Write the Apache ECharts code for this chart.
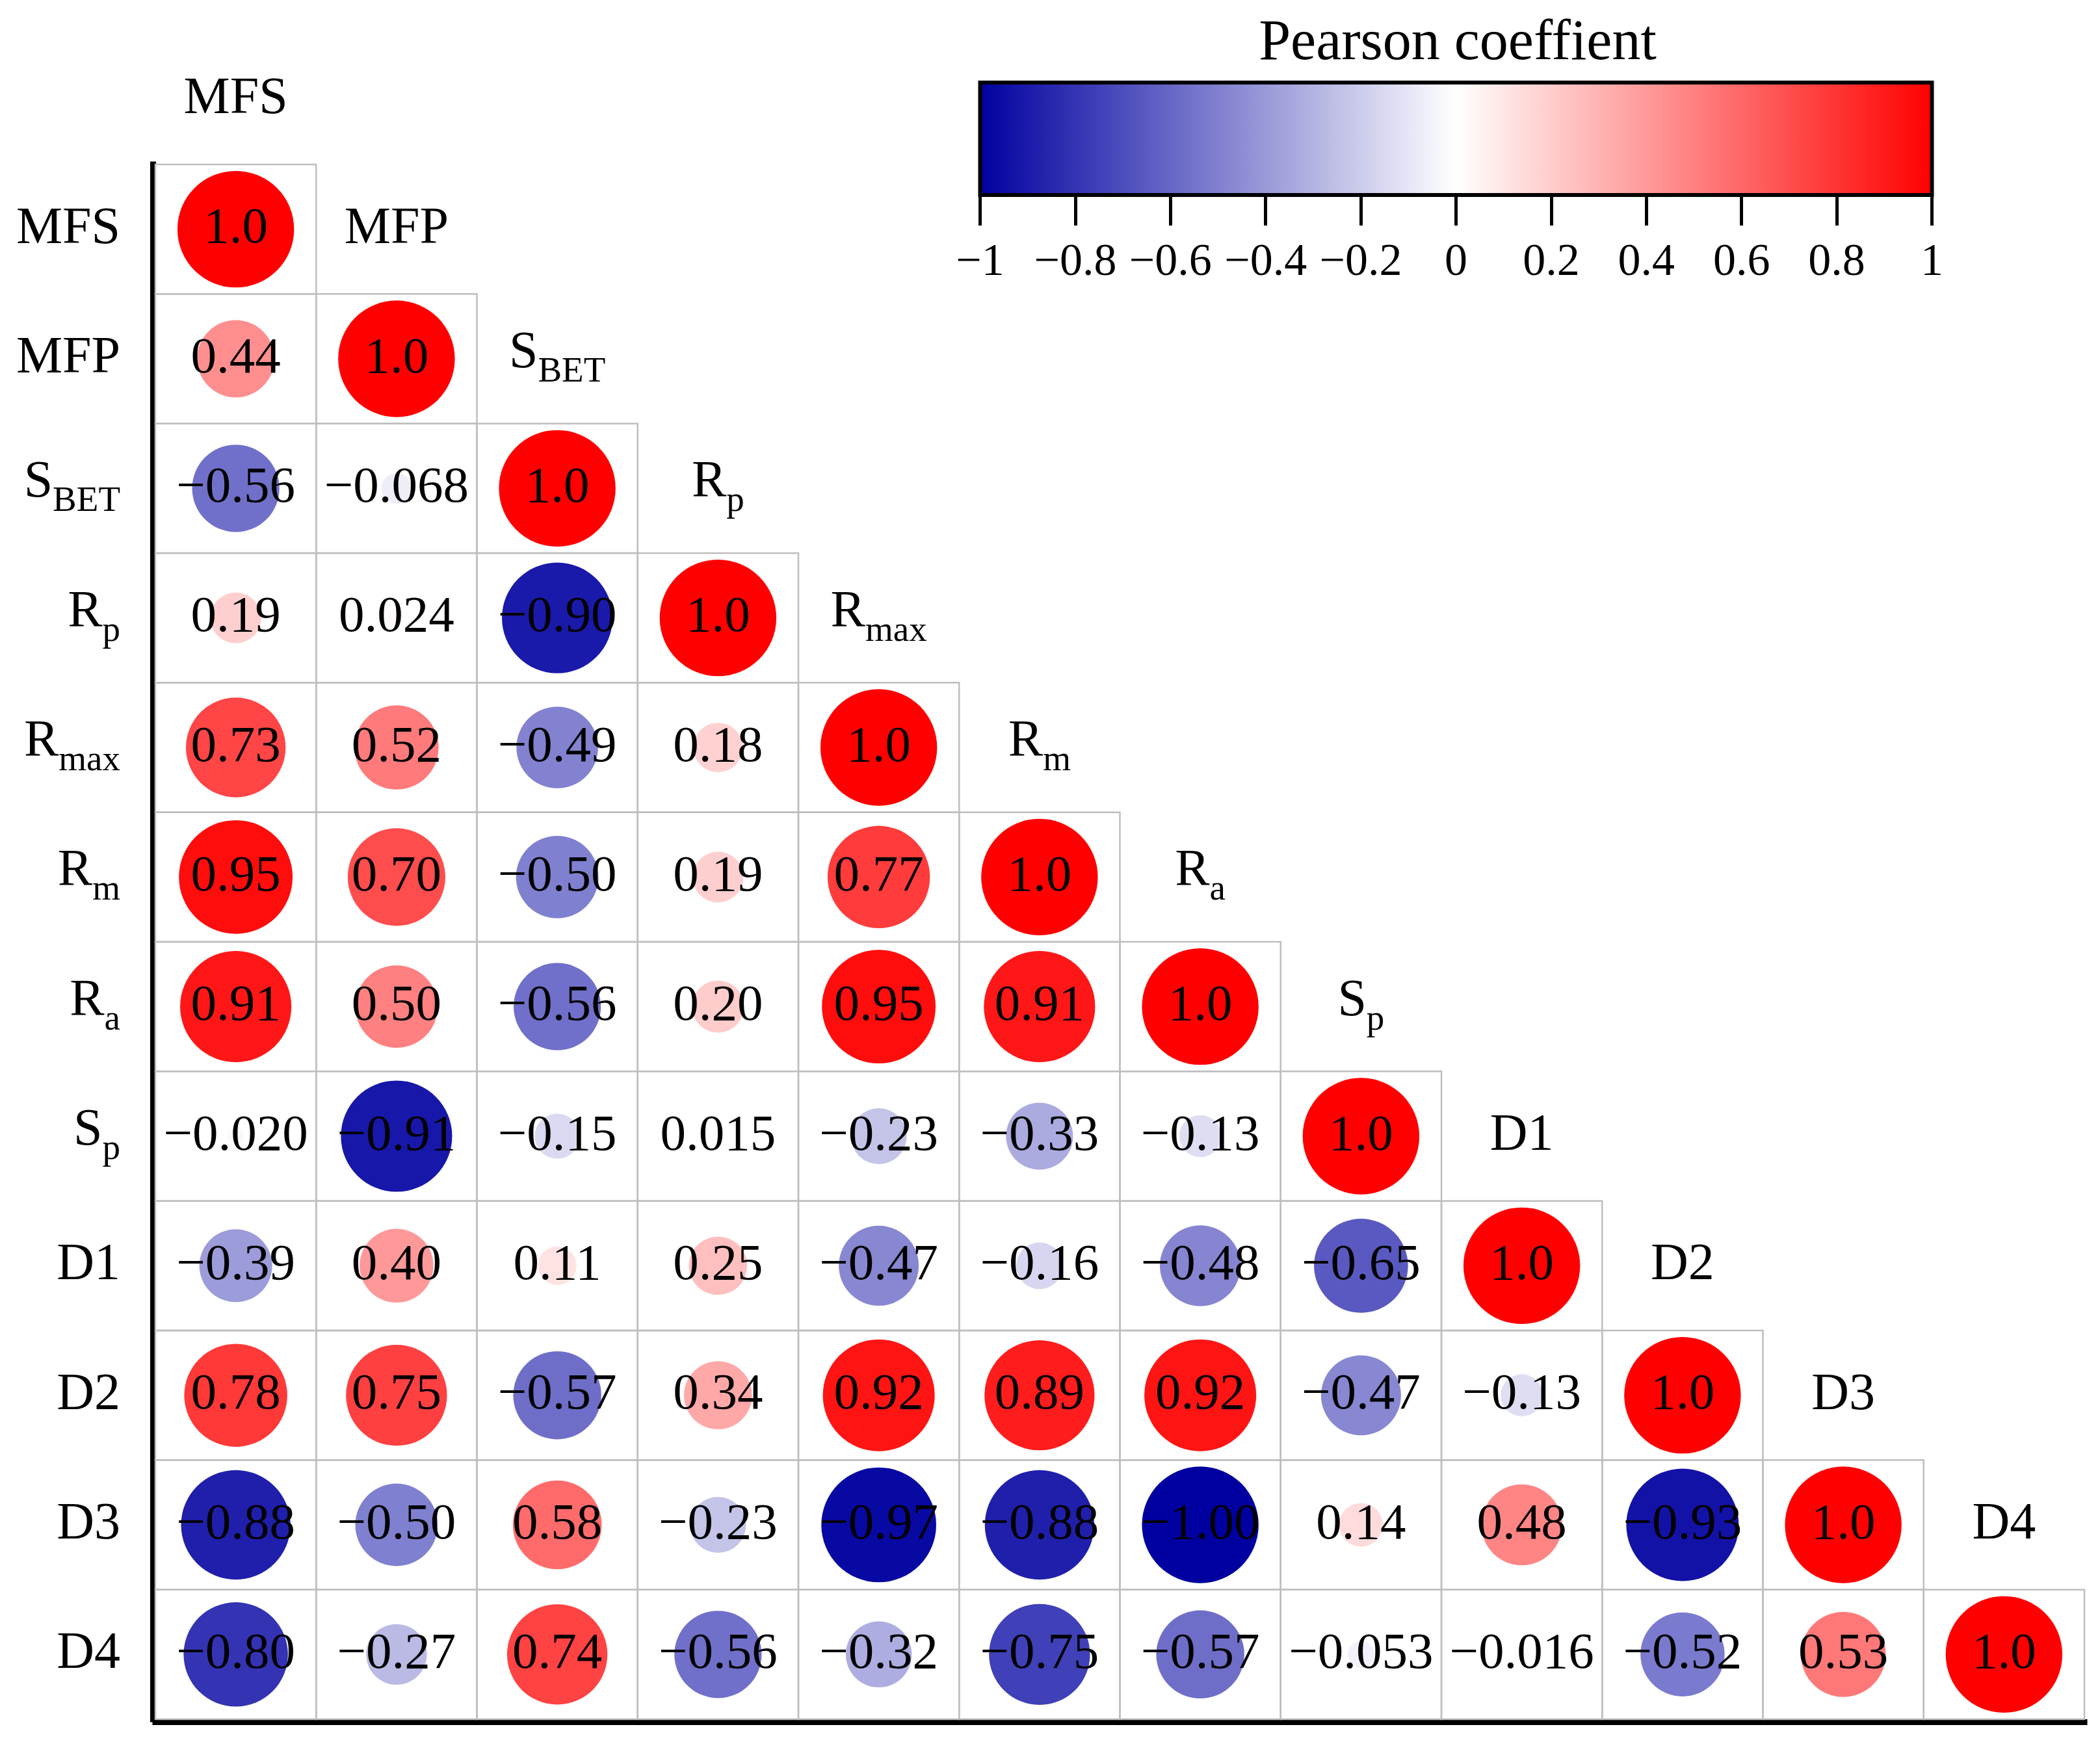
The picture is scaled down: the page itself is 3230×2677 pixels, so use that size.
<!DOCTYPE html>
<html>
<head>
<meta charset="utf-8">
<script src="https://cdn.jsdelivr.net/npm/echarts@6/dist/echarts.min.js"></script>
<style>
  html, body { margin: 0; padding: 0; background: #ffffff; }
  #chart { width: 3230px; height: 2677px; }
</style>
</head>
<body>
<div id="chart"></div>
<script>
// ---------- data ----------
const varNames = ['MFS', 'MFP', 'S_BET', 'R_p', 'R_max', 'R_m', 'R_a', 'S_p', 'D1', 'D2', 'D3', 'D4'];

const rowMFS  = [1.0];
const rowMFP  = [0.44, 1.0];
const rowSBET = [-0.56, -0.068, 1.0];
const rowRp   = [0.19, 0.024, -0.90, 1.0];
const rowRmax = [0.73, 0.52, -0.49, 0.18, 1.0];
const rowRm   = [0.95, 0.70, -0.50, 0.19, 0.77, 1.0];
const rowRa   = [0.91, 0.50, -0.56, 0.20, 0.95, 0.91, 1.0];
const rowSp   = [-0.020, -0.91, -0.15, 0.015, -0.23, -0.33, -0.13, 1.0];
const rowD1   = [-0.39, 0.40, 0.11, 0.25, -0.47, -0.16, -0.48, -0.65, 1.0];
const rowD2   = [0.78, 0.75, -0.57, 0.34, 0.92, 0.89, 0.92, -0.47, -0.13, 1.0];
const rowD3   = [-0.88, -0.50, 0.58, -0.23, -0.97, -0.88, -1.00, 0.14, 0.48, -0.93, 1.0];
const rowD4   = [-0.80, -0.27, 0.74, -0.56, -0.32, -0.75, -0.57, -0.053, -0.016, -0.52, 0.53, 1.0];
const corrRows = [rowMFS, rowMFP, rowSBET, rowRp, rowRmax, rowRm, rowRa, rowSp, rowD1, rowD2, rowD3, rowD4];

const colorStops = ['#0000A0', '#FFFFFF', '#FF0000'];
const legendTitle = 'Pearson coeffient';
const cbMin = -1, cbMax = 1, cbStep = 0.2;

// ---------- layout ----------
const W = 3230, H = 2677;
const gLeft = 239, gTop = 253, gRight = 24, gBottom = 32;
const nVar = varNames.length;
const cellH = (H - gTop - gBottom) / nVar;
const maxDiam = 0.9 * cellH;
const FONT = 'Liberation Serif';

function fmt(v, diag) {
  let s;
  if (diag) s = v.toFixed(1);
  else if (Math.abs(v) < 0.1) s = v.toPrecision(2);
  else s = v.toFixed(2);
  return s.replace('-', '\u2212');
}
function richName(n) {
  const k = n.indexOf('_');
  if (k < 0) return '{p|' + n + '}';
  return '{m|' + n.slice(0, k) + '}{s|' + n.slice(k + 1) + '}';
}
const nameRich = {
  p: { fontFamily: FONT, fontSize: 80, color: '#000', verticalAlign: 'middle' },
  m: { fontFamily: FONT, fontSize: 80, color: '#000', verticalAlign: 'middle', padding: [0, 0, 16, 0] },
  s: { fontFamily: FONT, fontSize: 55, color: '#000', verticalAlign: 'middle', padding: [41, 0, 0, 0] }
};

const circleData = [];
const cellData = [];
corrRows.forEach((row, i) => {
  row.forEach((v, j) => {
    circleData.push([j, i, v, i === j ? 1 : 0]);
    cellData.push([j, i]);
  });
});
const diagData = varNames.map((n, k) => [k, k]);

const chart = echarts.init(document.getElementById('chart'), null, { renderer: 'canvas', width: W, height: H });

const option = {
  backgroundColor: '#ffffff',
  animation: false,
  title: {
    text: legendTitle,
    left: 2242,
    top: 24,
    textAlign: 'center',
    padding: 0,
    textStyle: { fontFamily: FONT, fontSize: 88, fontWeight: 'normal', color: '#000' }
  },
  grid: [
    { left: gLeft, top: gTop, right: gRight, bottom: gBottom, containLabel: false },
    { left: 1507.5, top: 127, width: 1464, height: 173, containLabel: false }
  ],
  xAxis: [
    {
      type: 'category', gridIndex: 0, data: varNames, position: 'bottom', offset: 4,
      axisLine: { show: true, lineStyle: { color: '#000', width: 9, cap: 'square' } },
      axisTick: { show: false }, axisLabel: { show: false }, splitLine: { show: false }
    },
    {
      type: 'value', gridIndex: 1, min: cbMin, max: cbMax, interval: cbStep, position: 'bottom',
      axisLine: { show: false },
      axisTick: { show: true, length: 47, lineStyle: { color: '#000', width: 5 } },
      axisLabel: {
        show: true, margin: 70, fontFamily: FONT, fontSize: 70, color: '#000',
        formatter: v => String(Math.round(v * 10) / 10).replace('-', '\u2212')
      },
      splitLine: { show: false }
    }
  ],
  yAxis: [
    {
      type: 'category', gridIndex: 0, data: varNames, inverse: true, position: 'left', offset: 4,
      axisLine: { show: true, lineStyle: { color: '#000', width: 9, cap: 'square' } },
      axisTick: { show: false },
      axisLabel: { show: true, margin: 50, formatter: v => richName(v), rich: nameRich },
      splitLine: { show: false }
    },
    { type: 'value', gridIndex: 1, min: 0, max: 1, show: false }
  ],
  visualMap: {
    type: 'continuous', show: false, min: cbMin, max: cbMax, dimension: 2, seriesIndex: 1,
    inRange: { color: colorStops }
  },
  series: [
    {
      type: 'custom', name: 'cells', xAxisIndex: 0, yAxisIndex: 0, clip: false, z: 1,
      data: cellData,
      renderItem: (params, api) => {
        const pt = api.coord([api.value(0), api.value(1)]);
        const sz = api.size([1, 1]);
        return {
          type: 'rect',
          shape: { x: pt[0] - sz[0] / 2, y: pt[1] - sz[1] / 2, width: sz[0], height: sz[1] },
          style: { fill: 'none', stroke: '#BEBEBE', lineWidth: 2.5 }
        };
      }
    },
    {
      type: 'scatter', name: 'corr', xAxisIndex: 0, yAxisIndex: 0, z: 3,
      data: circleData,
      symbol: 'circle',
      symbolSize: d => maxDiam * Math.sqrt(Math.abs(d[2])),
      itemStyle: { opacity: 1 },
      label: {
        show: true, position: 'inside', color: '#000', fontFamily: FONT, fontSize: 79,
        textBorderWidth: 0,
        formatter: p => fmt(p.value[2], p.value[3] === 1)
      },
      emphasis: { disabled: true }
    },
    {
      type: 'custom', name: 'colLabels', xAxisIndex: 0, yAxisIndex: 0, clip: false, z: 4,
      data: diagData,
      renderItem: (params, api) => {
        const k = params.dataIndex;
        const pt = api.coord([api.value(0), api.value(1)]);
        const sz = api.size([1, 1]);
        return {
          type: 'text',
          x: pt[0], y: pt[1] - sz[1],
          style: {
            text: richName(varNames[k]), rich: nameRich,
            align: 'center', verticalAlign: 'middle', fill: '#000'
          }
        };
      }
    },
    {
      type: 'custom', name: 'colorbar', xAxisIndex: 1, yAxisIndex: 1, clip: false, z: 2,
      data: [[cbMin, 0]],
      renderItem: (params, api) => {
        const p0 = api.coord([cbMin, 1]);
        const p1 = api.coord([cbMax, 0]);
        return {
          type: 'rect',
          shape: { x: p0[0], y: p0[1], width: p1[0] - p0[0], height: p1[1] - p0[1] },
          style: {
            fill: new echarts.graphic.LinearGradient(0, 0, 1, 0,
              colorStops.map((c, i) => ({ offset: i / (colorStops.length - 1), color: c }))),
            stroke: '#000', lineWidth: 6
          }
        };
      }
    }
  ]
};
chart.setOption(option);
</script>
</body>
</html>
